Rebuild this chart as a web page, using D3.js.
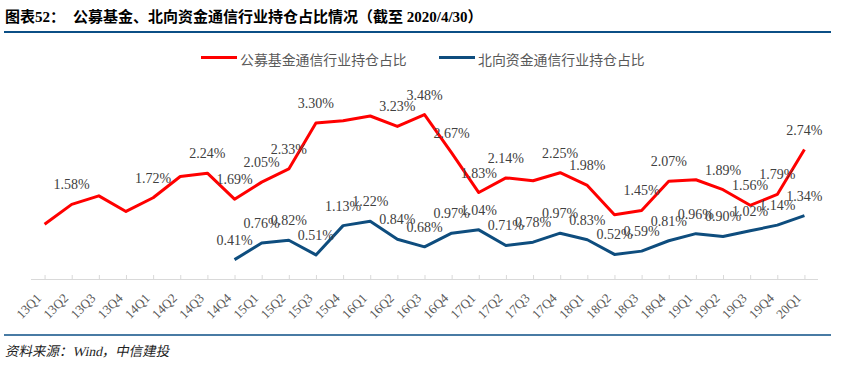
<!DOCTYPE html>
<html>
<head>
<meta charset="utf-8">
<script src="https://cdn.jsdelivr.net/npm/d3@7"></script>
<style>
  body { margin: 0; background: #fff; }
  svg { display: block; }
</style>
</head>
<body>
<script>
// quarters on the x axis
const quarters = ["13Q1","13Q2","13Q3","13Q4","14Q1","14Q2","14Q3","14Q4",
  "15Q1","15Q2","15Q3","15Q4","16Q1","16Q2","16Q3","16Q4",
  "17Q1","17Q2","17Q3","17Q4","18Q1","18Q2","18Q3","18Q4",
  "19Q1","19Q2","19Q3","19Q4","20Q1"];

// 公募基金 (%), some points have no label in the original
const fundValues = [1.16,1.58,1.76,1.43,1.72,2.17,2.24,1.69,
  2.05,2.33,3.30,3.35,3.45,3.23,3.48,2.67,
  1.83,2.14,2.08,2.25,1.98,1.36,1.45,2.07,
  2.10,1.89,1.56,1.79,2.74];
const fundLabelled = [0,1,0,0,1,0,1,1, 1,1,1,0,0,1,1,1, 1,1,0,1,1,0,1,1, 0,1,1,1,1];

// 北向资金 (%), starts at 14Q4
const northValues = [null,null,null,null,null,null,null,0.41,
  0.76,0.82,0.51,1.13,1.22,0.84,0.68,0.97,
  1.04,0.71,0.78,0.97,0.83,0.52,0.59,0.81,
  0.96,0.90,1.02,1.14,1.34];

const seriesNames = ["公募基金通信行业持仓占比", "北向资金通信行业持仓占比"];
const yDomain = [0, 4];

const W = 848, H = 367;
const red = "#ff0000", blue = "#0e4d7e";

var svg = d3.select("body").append("svg")
  .attr("width", W).attr("height", H);

svg.append("rect").attr("width", W).attr("height", H).attr("fill", "#fff");

// title
svg.append("text")
  .attr("x", 5).attr("y", 22)
  .style("font-family", "'Liberation Serif','Noto Sans CJK SC',serif")
  .style("font-weight", "bold").style("font-size", "15px")
  .attr("fill", "#000")
  .text("图表52：");
svg.append("text")
  .attr("x", 73).attr("y", 22)
  .style("font-family", "'Liberation Serif','Noto Sans CJK SC',serif")
  .style("font-weight", "bold").style("font-size", "15px")
  .attr("fill", "#000")
  .text("公募基金、北向资金通信行业持仓占比情况（截至 2020/4/30）");

svg.append("line")
  .attr("x1", 4).attr("x2", 831).attr("y1", 32).attr("y2", 32)
  .attr("stroke", "#0b4f86").attr("stroke-width", 2);

// footer
svg.append("line")
  .attr("x1", 4).attr("x2", 831).attr("y1", 335).attr("y2", 335)
  .attr("stroke", "#0b4f86").attr("stroke-width", 1.5);
svg.append("text")
  .attr("transform", "translate(5,356) skewX(-12)")
  .style("font-family", "'Liberation Serif','Noto Sans CJK SC',serif")
  .style("font-size", "13.5px")
  .attr("fill", "#222")
  .text("资料来源：Wind，中信建投");

// scales
const x = d3.scaleBand().domain(quarters).range([31, 818]).padding(0);
const cx = d => x(d) + x.bandwidth() / 2;
const y = d3.scaleLinear().domain(yDomain).range([279, 90]);

// x axis
var xAxis = svg.append("g")
  .attr("transform", "translate(0,279)")
  .call(d3.axisBottom(d3.scalePoint().domain(quarters).range([cx(quarters[0]), cx(quarters[quarters.length - 1])]))
    .tickSize(-4).tickSizeOuter(0));
xAxis.select(".domain").remove();
xAxis.append("line")
  .attr("x1", 31).attr("x2", 818).attr("y1", 0.5).attr("y2", 0.5)
  .attr("stroke", "#d9d9d9");
xAxis.selectAll(".tick line").attr("stroke", "#d9d9d9");
xAxis.selectAll(".tick text")
  .attr("x", 0).attr("y", 0).attr("dy", 0)
  .attr("transform", "translate(-3,20) rotate(-45)")
  .style("text-anchor", "end")
  .style("font-family", "'Liberation Serif',serif")
  .style("font-size", "13px")
  .attr("fill", "#595959");

// lines
const fundData = quarters.map((q, i) => ({q: q, v: fundValues[i], lab: fundLabelled[i]}));
const northData = quarters.map((q, i) => ({q: q, v: northValues[i], lab: 1}));

var line = d3.line()
  .defined(d => d.v != null)
  .x(d => cx(d.q))
  .y(d => y(d.v));

svg.append("path").datum(northData)
  .attr("d", line).attr("fill", "none")
  .attr("stroke", blue).attr("stroke-width", 3)
  .attr("stroke-linejoin", "round");

svg.append("path").datum(fundData)
  .attr("d", line).attr("fill", "none")
  .attr("stroke", red).attr("stroke-width", 3)
  .attr("stroke-linejoin", "round");

// data labels
function addLabels(data) {
  svg.append("g").selectAll("text")
    .data(data.filter(d => d.v != null && d.lab))
    .join("text")
      .attr("x", d => cx(d.q))
      .attr("y", d => y(d.v) - 15)
      .attr("text-anchor", "middle")
      .style("font-family", "'Liberation Serif',serif")
      .style("font-size", "14px")
      .attr("fill", "#404040")
      .text(d => d.v.toFixed(2) + "%");
}
addLabels(northData);
addLabels(fundData);

// legend
var legend = svg.append("g");
const legendPos = [{lx: 201, tx: 240, c: red}, {lx: 439, tx: 478, c: blue}];
legendPos.forEach((p, i) => {
  legend.append("line")
    .attr("x1", p.lx).attr("x2", p.lx + 36).attr("y1", 57.5).attr("y2", 57.5)
    .attr("stroke", p.c).attr("stroke-width", 3);
  legend.append("text")
    .attr("x", p.tx).attr("y", 59)
    .attr("dominant-baseline", "central")
    .style("font-family", "'Noto Sans CJK SC',sans-serif")
    .style("font-size", "13.9px")
    .attr("fill", "#595959")
    .text(seriesNames[i]);
});
</script>
</body>
</html>
